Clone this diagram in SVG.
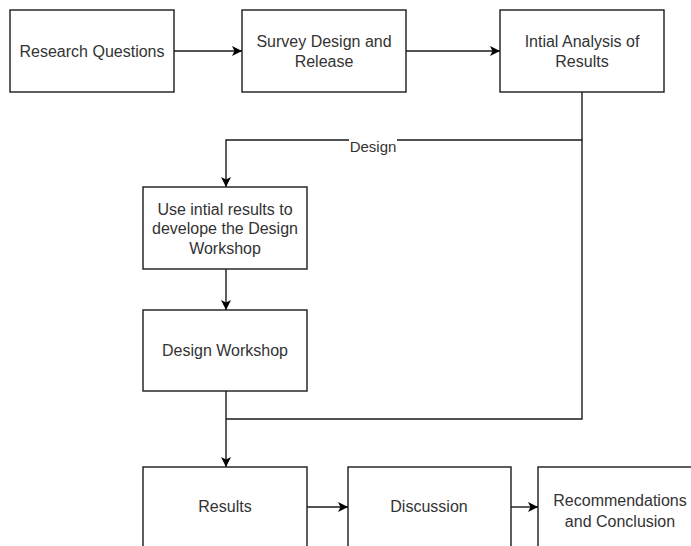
<svg xmlns="http://www.w3.org/2000/svg" width="691" height="546" viewBox="0 0 691 546">
  <style>
    .box { fill: #ffffff; stroke: #1a1a1a; stroke-width: 1.4; }
    .lbl { font-family: "Liberation Sans", Arial, sans-serif; font-size: 16px; fill: #333333; text-anchor: middle; }
    .edge { fill: none; stroke: #1a1a1a; stroke-width: 1.4; }
    .elbl { font-family: "Liberation Sans", Arial, sans-serif; font-size: 15px; fill: #333333; text-anchor: middle; }
  </style>
  <defs>
    <marker id="arrow" viewBox="0 0 10 10" refX="10" refY="5" markerWidth="10" markerHeight="10" markerUnits="userSpaceOnUse" orient="auto">
      <path d="M0,0 L10,5 L0,10 L2.5,5 Z" fill="#000000"/>
    </marker>
  </defs>
  <rect width="691" height="546" fill="#ffffff"/>

  <g id="connectors">
    <path class="edge" d="M174,51 H242" marker-end="url(#arrow)"/>
    <path class="edge" d="M406,51 H500" marker-end="url(#arrow)"/>
    <path class="edge" d="M582,92 V140 H226 V187" marker-end="url(#arrow)"/>
    <path class="edge" d="M582,140 V419 H226"/>
    <path class="edge" d="M226,269 V310" marker-end="url(#arrow)"/>
    <path class="edge" d="M226,391 V467" marker-end="url(#arrow)"/>
    <path class="edge" d="M307,507 H348" marker-end="url(#arrow)"/>
    <path class="edge" d="M511,507 H538" marker-end="url(#arrow)"/>
    <rect x="349" y="134" width="48" height="16" fill="#ffffff"/>
    <text class="elbl" x="373" y="152">Design</text>
  </g>

  <g id="research-questions">
    <rect class="box" x="10" y="10" width="164" height="82"/>
    <text class="lbl" x="92" y="57">Research Questions</text>
  </g>
  <g id="survey-design">
    <rect class="box" x="242" y="10" width="164" height="82"/>
    <text class="lbl" x="324" y="47">Survey Design and</text>
    <text class="lbl" x="324" y="67">Release</text>
  </g>
  <g id="initial-analysis">
    <rect class="box" x="500" y="10" width="164" height="82"/>
    <text class="lbl" x="582" y="47">Intial Analysis of</text>
    <text class="lbl" x="582" y="67">Results</text>
  </g>
  <g id="develop-workshop">
    <rect class="box" x="143" y="187" width="164" height="82"/>
    <text class="lbl" x="225" y="215">Use intial results to</text>
    <text class="lbl" x="225" y="234">develope the Design</text>
    <text class="lbl" x="225" y="254">Workshop</text>
  </g>
  <g id="design-workshop">
    <rect class="box" x="143" y="310" width="164" height="81"/>
    <text class="lbl" x="225" y="356">Design Workshop</text>
  </g>
  <g id="results">
    <rect class="box" x="143" y="467" width="164" height="82"/>
    <text class="lbl" x="225" y="512">Results</text>
  </g>
  <g id="discussion">
    <rect class="box" x="348" y="467" width="163" height="82"/>
    <text class="lbl" x="429" y="512">Discussion</text>
  </g>
  <g id="recommendations">
    <rect class="box" x="538" y="467" width="164" height="82"/>
    <text class="lbl" x="620" y="506">Recommendations</text>
    <text class="lbl" x="620" y="527">and Conclusion</text>
  </g>
</svg>
